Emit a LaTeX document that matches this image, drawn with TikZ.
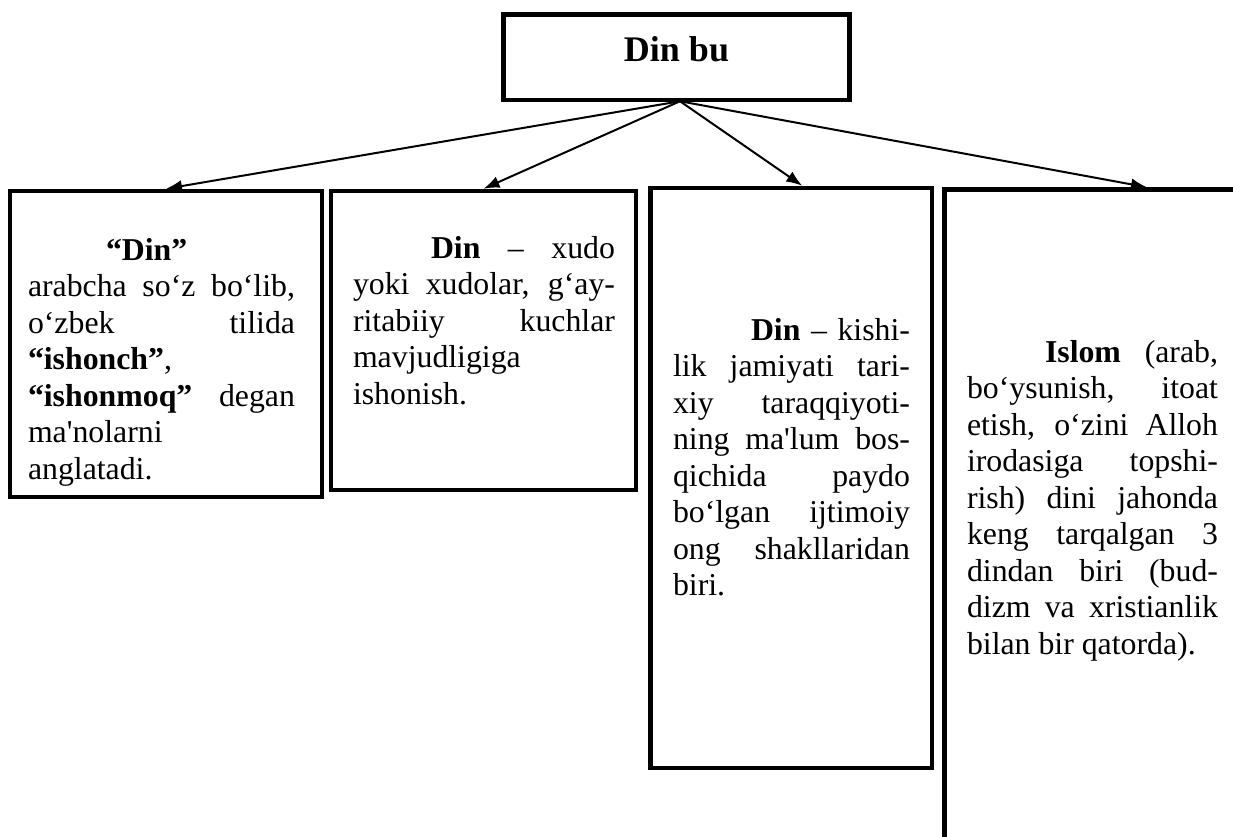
\documentclass[tikz,border=0pt]{standalone}
\usepackage{fontspec}
\setmainfont{Liberation Serif}
\newfontfamily\tnr{Liberation Serif}
\usetikzlibrary{arrows.meta,calc}
\newcommand\jl[1]{\hbox to \hsize{#1}}
\newcommand\nl[1]{\hbox{#1}}
\newcommand\ind{\kern78pt}
\newcommand\bodyfont{\tnr\fontsize{31.8}{36.5}\selectfont}
\tikzset{
  box/.style={draw=black, line width=4.5pt, rectangle, inner sep=0pt},
  txt/.style={inner sep=0pt, outer sep=0pt, anchor=base west},
  arr/.style={line width=2pt, -{Latex[length=16pt,width=12pt]}},
}
\begin{document}
\begin{tikzpicture}[x=1pt,y=-1pt]
\path[use as bounding box] (0,0) rectangle (1233,837);
\clip (0,0) rectangle (1233,837);
\fill[white] (0,0) rectangle (1233,837);

% boxes
\node[box, minimum width=346pt, minimum height=85.5pt] (top) at (676.5,57.25) {};
\node[inner sep=0pt, anchor=base] (title) at (676.5,62) {\tnr\fontsize{36}{40}\selectfont\bfseries Din bu};

\node[box, minimum width=312pt, minimum height=306pt] (b1) at (166,344) {};
\node[box, minimum width=305pt, minimum height=299pt] (b2) at (483.5,340.5) {};
\node[box, minimum width=281.5pt, minimum height=580pt] (b3) at (791.25,478) {};
\node[box, minimum width=405pt, minimum height=710pt] (b4) at (1147,544.5) {};

% texts
\node[txt] (t1) at (28,260) {\vtop{\hsize=267pt \bodyfont
\nl{\ind\textbf{“Din”}}
\jl{arabcha so‘z bo‘lib,}
\jl{o‘zbek tilida}
\nl{\textbf{“ishonch”},}
\jl{\textbf{“ishonmoq”} degan}
\nl{ma\symbol{39}nolarni}
\nl{anglatadi.}}};

\node[txt] (t2) at (353,258) {\vtop{\hsize=262pt \bodyfont
\jl{\ind\textbf{Din} – xudo}
\jl{yoki xudolar, g‘ay-}
\jl{ritabiiy kuchlar}
\nl{mavjudligiga}
\nl{ishonish.}}};

\node[txt] (t3) at (673,340) {\vtop{\hsize=237pt \bodyfont
\jl{\ind\textbf{Din} – kishi-}
\jl{lik jamiyati tari-}
\jl{xiy taraqqiyoti-}
\jl{ning ma\symbol{39}lum bos-}
\jl{qichida paydo}
\jl{bo‘lgan ijtimoiy}
\jl{ong shakllaridan}
\nl{biri.}}};

\node[txt] (t4) at (967,362) {\vtop{\hsize=251pt \bodyfont
\jl{\ind\textbf{Islom} (arab,}
\jl{bo‘ysunish, itoat}
\jl{etish, o‘zini Alloh}
\jl{irodasiga topshi-}
\jl{rish) dini jahonda}
\jl{keng tarqalgan 3}
\jl{dindan biri (bud-}
\jl{dizm va xristianlik}
\nl{bilan bir qatorda).}}};

% connectors
\coordinate (apex) at ($(top.south)+(3.5,-1)$);
\draw[arr] (apex) -- (b1.north);
\draw[arr] (apex) -- (b2.north);
\draw[arr] (apex) -- ($(b3.north)+(11,0)$);
\draw[arr] (apex) -- (b4.north);
\end{tikzpicture}
\end{document}
